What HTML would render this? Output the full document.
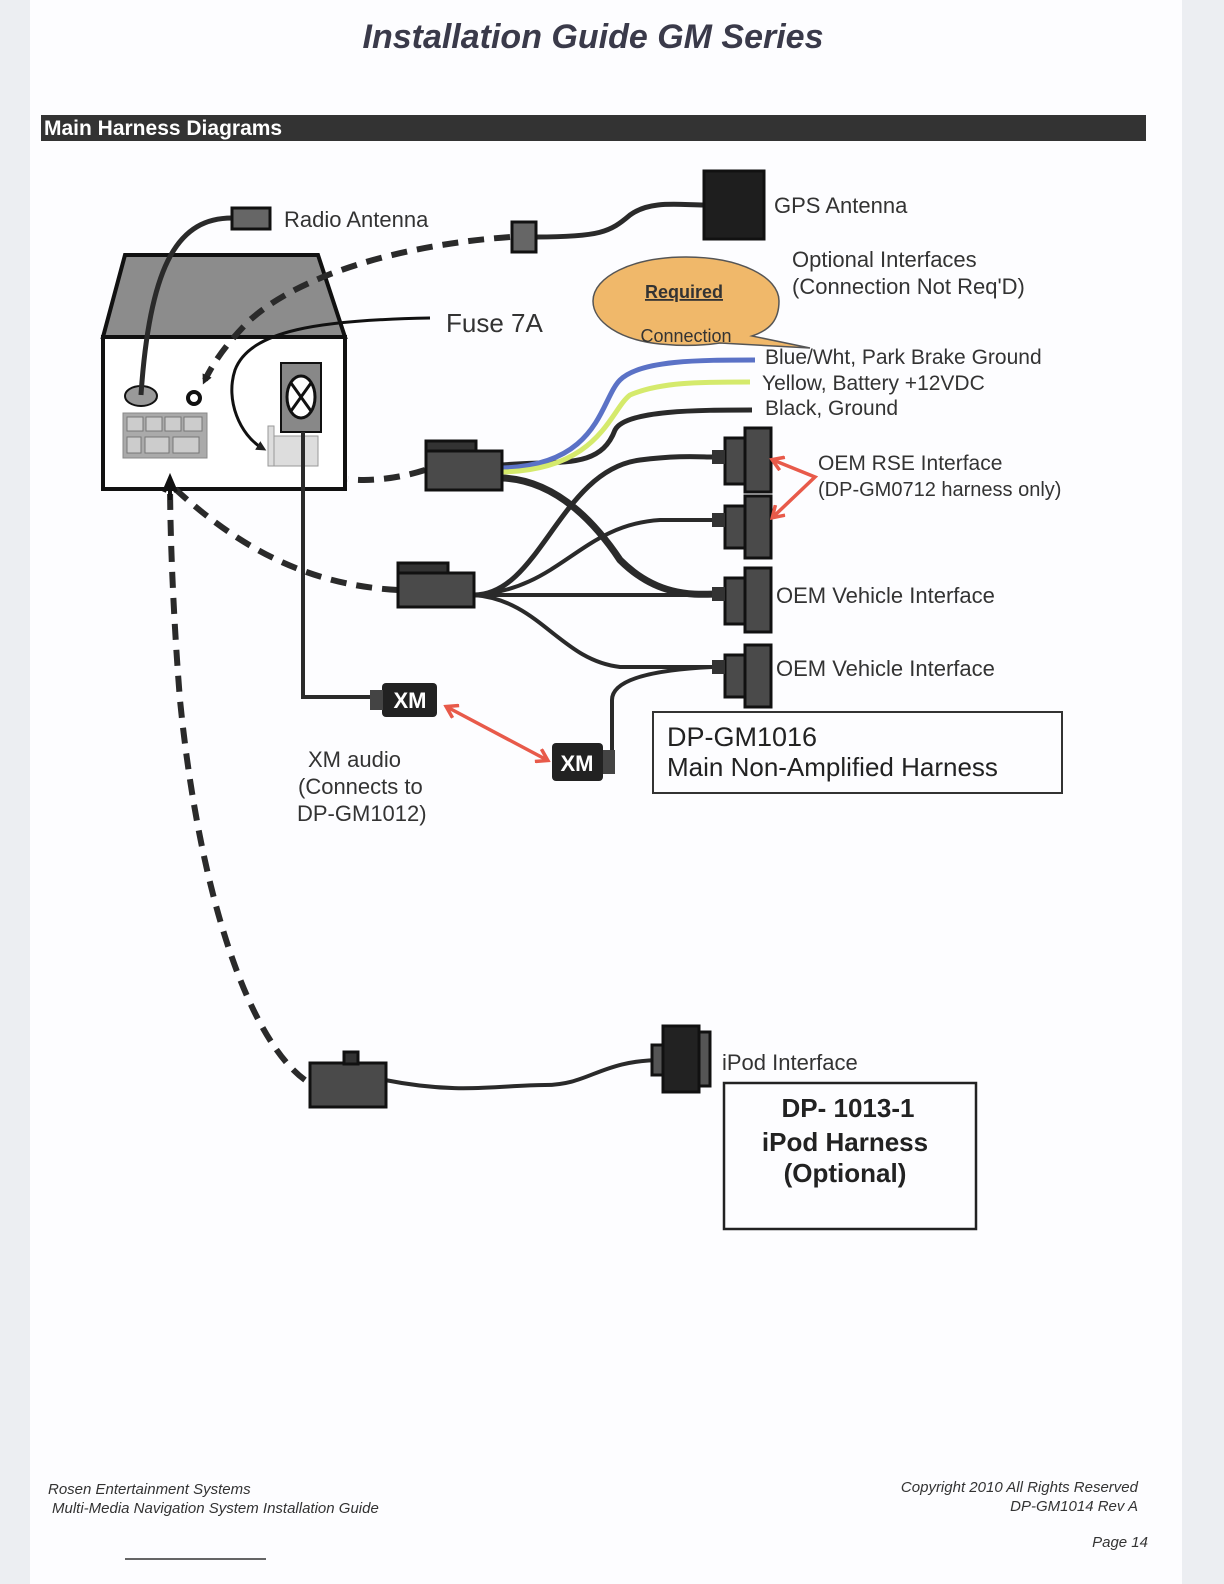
<!DOCTYPE html>
<html><head><meta charset="utf-8"><style>
html,body{margin:0;padding:0;background:#eceef2;}
svg{display:block;font-family:"Liberation Sans",sans-serif;}
</style></head><body>
<svg width="1224" height="1584" viewBox="0 0 1224 1584" xmlns="http://www.w3.org/2000/svg">
<defs>
<marker id="ah" markerWidth="10" markerHeight="10" refX="5" refY="5" orient="auto" markerUnits="userSpaceOnUse" viewBox="0 0 10 10"><path d="M0,0 L10,5 L0,10 z" fill="#222"/></marker>
<marker id="rh" markerWidth="16" markerHeight="16" refX="12" refY="8" orient="auto-start-reverse" markerUnits="userSpaceOnUse" viewBox="0 0 16 16"><path d="M2,1 L13,8 L2,15" fill="none" stroke="#e85a4a" stroke-width="3.5"/></marker>
</defs>
<rect x="30" y="0" width="1152" height="1584" fill="#fdfdff"/>
<text x="593" y="48" text-anchor="middle" font-size="34" font-weight="bold" font-style="italic" fill="#3a3a4a">Installation Guide GM Series</text>
<rect x="41" y="115" width="1105" height="26" fill="#333"/>
<text x="44" y="135" font-size="21" font-weight="bold" fill="#fff">Main Harness Diagrams</text>

<!-- head unit -->
<polygon points="103,337 125,255 318,255 345,337" fill="#8c8c8c" stroke="#111" stroke-width="4"/>
<rect x="103" y="337" width="242" height="152" fill="#fff" stroke="#111" stroke-width="4"/>
<ellipse cx="141" cy="396" rx="16" ry="10" fill="#999" stroke="#111" stroke-width="2"/>
<circle cx="194" cy="398" r="6" fill="#fff" stroke="#111" stroke-width="4"/>
<rect x="123" y="413" width="84" height="45" fill="#aaa" stroke="#888"/>
<g fill="#ccc" stroke="#777"><rect x="127" y="417" width="16" height="14"/><rect x="146" y="417" width="16" height="14"/><rect x="165" y="417" width="16" height="14"/><rect x="184" y="417" width="18" height="14"/><rect x="127" y="437" width="14" height="16"/><rect x="145" y="437" width="24" height="16"/><rect x="173" y="437" width="26" height="16"/></g>
<rect x="281" y="363" width="40" height="69" fill="#888" stroke="#111" stroke-width="2"/>
<ellipse cx="301" cy="397" rx="14" ry="21" fill="#fff" stroke="#111" stroke-width="3"/>
<path d="M291,383 L311,411 M311,383 L291,411" stroke="#111" stroke-width="3"/>
<rect x="274" y="436" width="44" height="30" fill="#ddd" stroke="#999"/>
<rect x="268" y="426" width="6" height="40" fill="#ddd" stroke="#999"/>

<!-- cables -->
<g fill="none" stroke="#2a2a2a" stroke-width="5">
<path d="M232,218 C180,218 150,260 141,395"/>
<path d="M536,237 C600,237 610,232 630,215 C650,200 680,205 704,205"/>
<path d="M303,432 V697 H370" stroke-width="4"/>
<path d="M385,1080 C460,1095 500,1085 545,1085 C590,1085 600,1060 663,1060" stroke-width="4"/>
<path d="M502,465 C560,460 600,470 615,430 C625,410 700,410 752,410"/>
<path d="M502,478 C560,480 600,530 620,560 C660,600 700,594 720,594" stroke-width="7"/>
<path d="M474,595 C540,595 560,470 640,460 C680,455 700,457 712,457"/>
<path d="M474,595 C560,590 580,525 660,520 L712,520" stroke-width="4"/>
<path d="M474,595 H712" stroke-width="4"/>
<path d="M474,595 C540,600 560,660 620,667 L712,667" stroke-width="4"/>
<path d="M612,760 V700 C612,680 650,670 712,667" stroke-width="4"/>
</g>
<path d="M502,468 C600,465 600,400 620,380 C640,360 700,360 755,360" fill="none" stroke="#5b72c6" stroke-width="5"/>
<path d="M502,472 C600,470 610,410 630,395 C660,382 700,382 750,382" fill="none" stroke="#d5ea6c" stroke-width="5"/>
<path d="M430,318 C320,320 250,330 235,370 C225,400 240,435 262,448" fill="none" stroke="#111" stroke-width="3" marker-end="url(#ah)"/>

<!-- dashed -->
<g fill="none" stroke="#2a2a2a" stroke-width="6" stroke-dasharray="16,10">
<path d="M510,237 C400,245 300,275 250,320 C225,345 212,365 205,380" marker-end="url(#ah)"/>
<path d="M425,470 C400,478 370,482 348,479"/>
<path d="M398,590 C300,585 230,540 172,486" />
<path d="M305,1080 C250,1040 200,900 180,700 C172,600 170,520 170,480"/>
</g>
<path d="M170,500 L170,478 M164,492 L170,478 L176,492" stroke="#111" stroke-width="4" fill="none"/>

<!-- connectors -->
<g fill="#4a4a4a" stroke="#111" stroke-width="3">
<rect x="704" y="171" width="60" height="68" fill="#1e1e1e"/>
<rect x="512" y="222" width="24" height="30" fill="#666"/>
<rect x="232" y="208" width="38" height="21" fill="#666"/>
<rect x="426" y="441" width="50" height="10" fill="#333"/>
<rect x="426" y="451" width="76" height="39"/>
<rect x="398" y="563" width="50" height="10" fill="#333"/>
<rect x="398" y="573" width="76" height="34"/>
<rect x="310" y="1063" width="76" height="44"/>
<rect x="344" y="1052" width="14" height="12" fill="#333"/>
<rect x="663" y="1026" width="36" height="66" fill="#222"/>
<rect x="699" y="1032" width="11" height="54" fill="#555"/>
<rect x="652" y="1045" width="11" height="30" fill="#555"/>
</g>
<g fill="#4a4a4a" stroke="#111" stroke-width="3">
<rect x="745" y="428" width="26" height="64"/><rect x="725" y="438" width="20" height="46"/>
<rect x="745" y="496" width="26" height="62"/><rect x="725" y="506" width="20" height="42"/>
<rect x="745" y="568" width="26" height="64"/><rect x="725" y="578" width="20" height="46"/>
<rect x="745" y="645" width="26" height="62"/><rect x="725" y="655" width="20" height="42"/>
</g>
<g fill="#333"><rect x="712" y="450" width="13" height="14"/><rect x="712" y="513" width="13" height="14"/><rect x="712" y="587" width="13" height="14"/><rect x="712" y="660" width="13" height="14"/></g>

<!-- XM -->
<rect x="382" y="683" width="55" height="34" rx="4" fill="#222"/>
<rect x="370" y="690" width="13" height="20" fill="#444"/>
<text x="410" y="708" text-anchor="middle" font-size="22" font-weight="bold" fill="#fff">XM</text>
<rect x="552" y="743" width="51" height="38" rx="4" fill="#222"/>
<rect x="603" y="750" width="12" height="24" fill="#444"/>
<text x="577" y="771" text-anchor="middle" font-size="22" font-weight="bold" fill="#fff">XM</text>
<line x1="447" y1="707" x2="547" y2="760" stroke="#e85a4a" stroke-width="3.5" marker-start="url(#rh)" marker-end="url(#rh)"/>
<path d="M773,460 L815,477 L773,517" fill="none" stroke="#e85a4a" stroke-width="3.5" marker-start="url(#rh)" marker-end="url(#rh)"/>

<!-- balloon -->
<path d="M686,257 C740,257 779,277 779,301 C779,320 770,330 752,336 L810,348 L720,343 C700,346 680,346 660,344 C620,340 593,322 593,301 C593,277 632,257 686,257 Z" fill="#f0b86a" stroke="#555" stroke-width="1.5"/>
<text x="684" y="298" text-anchor="middle" font-size="18" font-weight="bold" fill="#333" text-decoration="underline">Required</text>
<text x="686" y="342" text-anchor="middle" font-size="18" fill="#333">Connection</text>

<!-- labels -->
<g fill="#333" font-size="22">
<text x="284" y="227">Radio Antenna</text>
<text x="774" y="213">GPS Antenna</text>
<text x="792" y="267">Optional Interfaces</text>
<text x="792" y="294">(Connection Not Req'D)</text>
<text x="446" y="332" font-size="26">Fuse 7A</text>
<text x="765" y="364" font-size="21">Blue/Wht, Park Brake Ground</text>
<text x="762" y="390" font-size="21">Yellow, Battery +12VDC</text>
<text x="765" y="415" font-size="21">Black, Ground</text>
<text x="818" y="470" font-size="21">OEM RSE Interface</text>
<text x="818" y="496" font-size="20">(DP-GM0712 harness only)</text>
<text x="776" y="603">OEM Vehicle Interface</text>
<text x="776" y="676">OEM Vehicle Interface</text>
<text x="308" y="767">XM audio</text>
<text x="298" y="794">(Connects to</text>
<text x="297" y="821">DP-GM1012)</text>
<text x="722" y="1070">iPod Interface</text>
</g>
<rect x="653" y="712" width="409" height="81" fill="none" stroke="#333" stroke-width="2"/>
<text x="667" y="746" font-size="27" fill="#222">DP-GM1016</text>
<text x="667" y="776" font-size="26" fill="#222">Main Non-Amplified Harness</text>
<rect x="724" y="1083" width="252" height="146" fill="none" stroke="#222" stroke-width="2.5"/>
<g font-size="26" fill="#222" text-anchor="middle" font-weight="bold">
<text x="848" y="1117">DP- 1013-1</text>
<text x="845" y="1151">iPod Harness</text>
<text x="845" y="1182">(Optional)</text>
</g>
<g font-size="15" font-style="italic" fill="#333">
<text x="48" y="1494">Rosen Entertainment Systems</text>
<text x="52" y="1513">Multi-Media Navigation System Installation Guide</text>
<text x="1138" y="1492" text-anchor="end">Copyright 2010 All Rights Reserved</text>
<text x="1138" y="1511" text-anchor="end">DP-GM1014 Rev A</text>
<text x="1148" y="1547" text-anchor="end">Page 14</text>
</g>
<line x1="125" y1="1559" x2="266" y2="1559" stroke="#333" stroke-width="1.5"/>
</svg>
</body></html>
